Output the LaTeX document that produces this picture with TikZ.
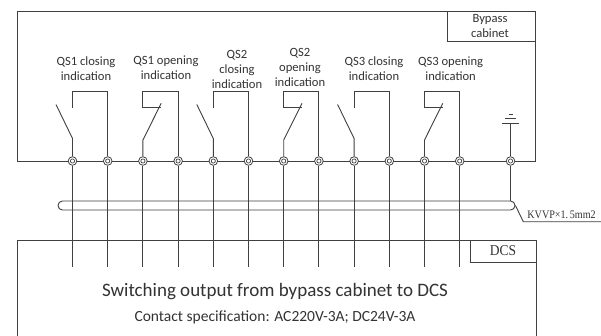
\documentclass[tikz,border=0pt]{standalone}
\usepackage{fontspec}
\setmainfont{Carlito}
\newfontfamily\dcsfont{Liberation Serif}
\definecolor{linec}{gray}{0.25}
\definecolor{textc}{gray}{0.2}
\begin{document}
\begin{tikzpicture}[x=1pt,y=-1pt,line width=0.9pt,
  term/.style={circle,draw=linec,fill=white,minimum size=8.6pt,inner sep=0pt,line width=0.8pt,
    path picture={\draw[linec,line width=0.7pt] (path picture bounding box.center) circle (2.1pt);}},
  lbl/.style={align=center,font=\fontsize{12.6}{15}\selectfont,text=textc,inner sep=0pt},
  wire/.style={draw=linec,line width=0.9pt}]
\clip (0,0) rectangle (601,335);
\fill[white] (0,0) rectangle (601,335);
% bypass cabinet box
\draw[wire] (17,161) -- (17,11) -- (535,11) -- (535,161) -- cycle;
\draw[wire] (447,11) -- (447,41) -- (535,41);
\node[lbl] (bypass) at (490,26) {Bypass\\cabinet};
% labels
\node[lbl] (l1) at (86,69) {QS1 closing\\indication};
\node[lbl] (l2) at (166,68) {QS1 opening\\indication};
\node[lbl] (l3) at (237,69) {QS2\\closing\\indication};
\node[lbl] (l4) at (300,67) {QS2\\opening\\indication};
\node[lbl] (l5) at (374,69) {QS3 closing\\indication};
\node[lbl] (l6) at (450.6,69) {QS3 opening\\indication};
% DCS box
\draw[wire] (17,340) -- (17,240) -- (536,240) -- (536,340);
\draw[wire] (470,240) -- (470,262) -- (536,262);
\node[font=\dcsfont\fontsize{15}{18}\selectfont,text=textc,xscale=0.9] (dcs) at (503,251) {DCS};
\node[font=\fontsize{19}{22}\selectfont,text=textc] (title) at (275,292) {Switching output from bypass cabinet to DCS};
\node[font=\fontsize{15.5}{18}\selectfont,text=textc] (spec) at (275,317) {Contact specification: AC220V-3A; DC24V-3A};
% cable
\node[draw=linec,line width=0.9pt,rounded corners=4.5pt,minimum width=457pt,minimum height=9pt,inner sep=0pt] (cable) at (286.5,205.5) {};
% terminals
\foreach \i in {0,...,11} {
  \node[term] (t\i) at ({72.5+35.2*\i},161) {};
  \coordinate (b\i) at ({72.5+35.2*\i},266.7);
  \draw[wire] (t\i) -- (b\i);
}
\node[term] (tg) at (510.5,161) {};
\draw[wire] (tg.south) -- (tg.south |- cable.north);
% switches
\foreach \k in {0,...,5} {
  \pgfmathtruncatemacro\a{2*\k}
  \pgfmathtruncatemacro\b{2*\k+1}
  \pgfmathsetmacro\L{72.5+35.2*\a}
  \pgfmathsetmacro\R{72.5+35.2*\b}
  \ifodd\k\relax
    \draw[wire] (t\b.north) -- (\R,91) -- (\L,91) -- (\L,107.7) -- ({\L+18.3},107.7);
    \draw[wire] (t\a.north) -- (\L,140) -- ({\L+18.3},103.3);
  \else
    \draw[wire] (t\b.north) -- (\R,91) -- (\L,91) -- (\L,108);
    \draw[wire] (t\a.north) -- (\L,138.5) -- ({\L-16.5},104.5);
  \fi
}
% ground
\coordinate (g0) at (510.5,123);
\draw[wire] (tg.north) -- (g0);
\draw[wire] (502,123) -- (519,123);
\draw[wire] (505,118.5) -- (516,118.5);
\draw[wire] (508.5,114) -- (512.5,114);
% leader
\coordinate (kv1) at (523.3,221.7);
\coordinate (kv2) at (601,221.7);
\draw[wire] (cable.east) -- (kv1) -- (kv2);
\node[font=\dcsfont\fontsize{11.5}{14}\selectfont,text=textc,anchor=south west,inner sep=0pt,xscale=0.88] (kvvp) at (527,219.5) {KVVP×1.\,5mm2};
\end{tikzpicture}
\end{document}
